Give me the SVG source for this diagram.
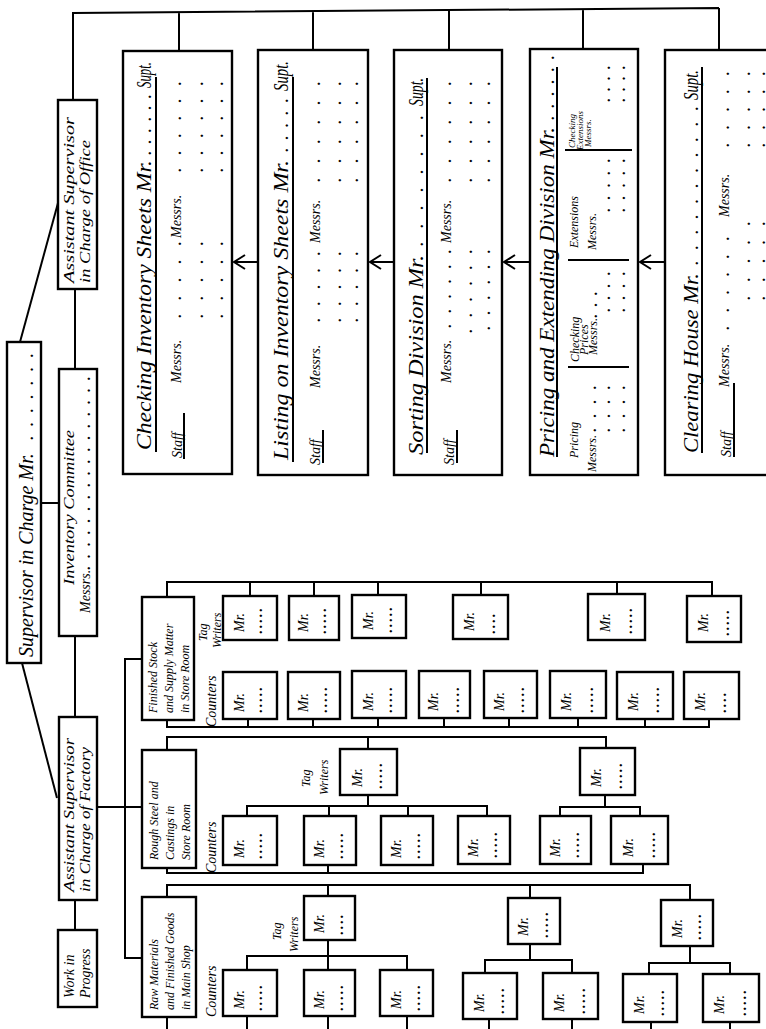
<svg xmlns="http://www.w3.org/2000/svg" width="766" height="1029" viewBox="0 0 766 1029">
<style>
.bx{fill:#fff;stroke:#000;stroke-width:2.4}
.ln{fill:none;stroke:#000;stroke-width:2}
.t{font-family:"Liberation Serif",serif;font-style:italic;fill:#000}
.h{font-size:20px}
.m{font-size:14px}
.s{font-size:12px}
.d{font-family:"Liberation Serif",serif;font-size:14px;font-weight:bold;fill:#000;letter-spacing:2px}
</style>
<defs>
<marker id="ar" markerWidth="14" markerHeight="16" refX="12" refY="8" orient="auto" markerUnits="userSpaceOnUse">
<path d="M1,1 L12,8 L1,15" fill="none" stroke="#000" stroke-width="2"/>
</marker>
</defs>
<rect width="766" height="1029" fill="#fff"/>

<g id="connectors" class="ln">
<path d="M20,342 L58,203"/>
<path d="M22,663 L57,798"/>
<path d="M41,503 H59"/>
<path d="M75,289 V369 M75,636 V717 M75,900 V930"/>
<path d="M73,100 V13 L719,8 M179,12 V51 M313,11 V50 M449,10 V50 M583,9 V49 M719,8 V49"/>
<path d="M258,262 H234" marker-end="url(#ar)"/>
<path d="M394,262 H370" marker-end="url(#ar)"/>
<path d="M530,262 H504" marker-end="url(#ar)"/>
<path d="M665,262 H640" marker-end="url(#ar)"/>
<path d="M97,807 H142 M142,659 H125 V958 H142"/>
<path d="M167,597 V582 H712 V596 M250,582 V596 M314,582 V596 M378,582 V596 M481,582 V596 M617,582 V596"/>
<path d="M167,720 V727 H709 V719 M248,727 V719 M313,727 V719 M378,727 V719 M444,727 V719 M509,727 V719 M578,727 V719 M645,727 V719"/>
<path d="M167,750 V737 H606 V748 M368,737 V749"/>
<path d="M368,795 V806 M247,816 V806 H487 V816 M329,806 V816 M408,806 V816"/>
<path d="M605,795 V807 M560,816 V807 H640 V816"/>
<path d="M167,868 V873 H643 V864 M328,873 V865"/>
<path d="M167,897 V885 H690 V900 M328,885 V896 M530,885 V898"/>
<path d="M328,940 V970 M247,970 V956 H407 V970"/>
<path d="M530,944 V960 M485,973 V960 H572 V973"/>
<path d="M690,946 V963 M649,974 V963 H730 V974"/>
<path d="M167,1017 V1029 M247,1016 V1029 M328,1016 V1029 M407,1016 V1029 M489,1019 V1029 M572,1019 V1029 M651,1022 V1029 M730,1022 V1029"/>
</g>

<g id="supervisor">
<rect class="bx" x="7" y="342" width="34" height="321"/>
<text class="t h" transform="translate(33 657) rotate(-90)">Supervisor in Charge Mr.</text>
<text class="d" transform="translate(33 440) rotate(-90)" textLength="88">. . . . . . .</text>
</g>
<g id="asst-office">
<rect class="bx" x="58" y="100" width="39" height="189"/>
<text class="t m" transform="translate(74 283) rotate(-90)" textLength="166" lengthAdjust="spacingAndGlyphs">Assistant Supervisor</text>
<text class="t m" transform="translate(90 283) rotate(-90)" textLength="143" lengthAdjust="spacingAndGlyphs">in Charge of Office</text>
</g>
<g id="committee">
<rect class="bx" x="59" y="369" width="38" height="267"/>
<text class="t m" transform="translate(74 585) rotate(-90)" textLength="155" lengthAdjust="spacingAndGlyphs">Inventory Committee</text>
<text class="t m" transform="translate(90 613) rotate(-90)">Messrs.</text>
<text class="d" transform="translate(90 570) rotate(-90)" textLength="195">. . . . . . . . . . . . . . . . .</text>
</g>
<g id="asst-factory">
<rect class="bx" x="59" y="717" width="38" height="183"/>
<text class="t m" transform="translate(74 892) rotate(-90)" textLength="154" lengthAdjust="spacingAndGlyphs">Assistant Supervisor</text>
<text class="t m" transform="translate(90 892) rotate(-90)" textLength="145" lengthAdjust="spacingAndGlyphs">in Charge of Factory</text>
</g>
<g id="work-in-progress">
<rect class="bx" x="58" y="930" width="39" height="77"/>
<text class="t m" transform="translate(74 998) rotate(-90)">Work in</text>
<text class="t m" transform="translate(90 998) rotate(-90)">Progress</text>
</g>

<g id="checking-sheets">
<rect class="bx" x="123" y="51" width="109" height="423"/>
<text class="t h" transform="translate(151 450) rotate(-90)" textLength="290" lengthAdjust="spacingAndGlyphs">Checking Inventory Sheets Mr.</text>
<text class="d" transform="translate(151 155) rotate(-90)" textLength="62">. . . . . .</text>
<text class="t h" transform="translate(151 88) rotate(-90)" textLength="26" lengthAdjust="spacingAndGlyphs">Supt.</text>
<path class="ln" d="M156,452 V77 M184,459 V413"/>
<text class="t m" transform="translate(182 458) rotate(-90)">Staff</text>
<text class="t m" transform="translate(181 383) rotate(-90)">Messrs.</text>
<text class="d" transform="translate(181 318) rotate(-90)" textLength="78">. . . . .</text>
<text class="d" transform="translate(203 318) rotate(-90)" textLength="78">. . . . .</text>
<text class="d" transform="translate(223 318) rotate(-90)" textLength="78">. . . . .</text>
<text class="t m" transform="translate(181 238) rotate(-90)">Messrs.</text>
<text class="d" transform="translate(181 172) rotate(-90)" textLength="92">. . . . . .</text>
<text class="d" transform="translate(203 172) rotate(-90)" textLength="92">. . . . . .</text>
<text class="d" transform="translate(223 172) rotate(-90)" textLength="92">. . . . . .</text>
</g>

<g id="listing-sheets">
<rect class="bx" x="258" y="50" width="110" height="425"/>
<text class="t h" transform="translate(288 460) rotate(-90)" textLength="300" lengthAdjust="spacingAndGlyphs">Listing on Inventory Sheets Mr.</text>
<text class="d" transform="translate(288 152) rotate(-90)" textLength="55">. . . . .</text>
<text class="t h" transform="translate(288 91) rotate(-90)" textLength="30" lengthAdjust="spacingAndGlyphs">Supt.</text>
<path class="ln" d="M293,462 V77 M323,463 V430"/>
<text class="t m" transform="translate(320 465) rotate(-90)">Staff</text>
<text class="t m" transform="translate(320 388) rotate(-90)">Messrs.</text>
<text class="d" transform="translate(320 322) rotate(-90)" textLength="72">. . . . .</text>
<text class="d" transform="translate(341 322) rotate(-90)" textLength="72">. . . . .</text>
<text class="d" transform="translate(358 322) rotate(-90)" textLength="72">. . . . .</text>
<text class="t m" transform="translate(320 243) rotate(-90)">Messrs.</text>
<text class="d" transform="translate(320 182) rotate(-90)" textLength="102">. . . . . .</text>
<text class="d" transform="translate(341 182) rotate(-90)" textLength="102">. . . . . .</text>
<text class="d" transform="translate(358 182) rotate(-90)" textLength="102">. . . . . .</text>
</g>

<g id="sorting-division">
<rect class="bx" x="394" y="50" width="108" height="425"/>
<text class="t h" transform="translate(423 455) rotate(-90)" textLength="200" lengthAdjust="spacingAndGlyphs">Sorting Division Mr.</text>
<text class="d" transform="translate(423 246) rotate(-90)" textLength="132">. . . . . . . .</text>
<text class="t h" transform="translate(423 106) rotate(-90)" textLength="28" lengthAdjust="spacingAndGlyphs">Supt.</text>
<path class="ln" d="M427,453 V78 M457,463 V430"/>
<text class="t m" transform="translate(454 465) rotate(-90)">Staff</text>
<text class="t m" transform="translate(451 383) rotate(-90)">Messrs.</text>
<text class="d" transform="translate(451 328) rotate(-90)" textLength="80">. . . . . .</text>
<text class="d" transform="translate(472 333) rotate(-90)" textLength="85">. . . . . .</text>
<text class="d" transform="translate(490 330) rotate(-90)" textLength="82">. . . . . .</text>
<text class="t m" transform="translate(451 243) rotate(-90)">Messrs.</text>
<text class="d" transform="translate(451 182) rotate(-90)" textLength="102">. . . . . .</text>
<text class="d" transform="translate(472 182) rotate(-90)" textLength="102">. . . . . .</text>
<text class="d" transform="translate(490 182) rotate(-90)" textLength="102">. . . . . .</text>
</g>

<g id="pricing-extending">
<rect class="bx" x="530" y="49" width="108" height="426"/>
<text class="t h" transform="translate(554 457) rotate(-90)" textLength="330" lengthAdjust="spacingAndGlyphs">Pricing and Extending Division Mr.</text>
<text class="d" transform="translate(554 120) rotate(-90)" textLength="66">. . . . . .</text>
<path class="ln" d="M557,457 V67 M568,367 H629 M568,260 H629 M565,150 H632"/>
<text class="t s" transform="translate(578 458) rotate(-90)">Pricing</text>
<text class="t s" transform="translate(596 472) rotate(-90)">Messrs.</text>
<text class="d" transform="translate(596 432) rotate(-90)" textLength="48">. . . .</text>
<text class="d" transform="translate(610 432) rotate(-90)" textLength="48">. . . .</text>
<text class="d" transform="translate(625 432) rotate(-90)" textLength="48">. . . .</text>
<text class="t s" transform="translate(579 362) rotate(-90)">Checking</text>
<text class="t s" transform="translate(588 355) rotate(-90)">Prices</text>
<text class="t s" transform="translate(597 355) rotate(-90)">Messrs.</text>
<text class="d" transform="translate(597 318) rotate(-90)" textLength="28">. . .</text>
<text class="d" transform="translate(610 312) rotate(-90)" textLength="42">. . . .</text>
<text class="d" transform="translate(625 312) rotate(-90)" textLength="42">. . . .</text>
<text class="t s" transform="translate(578 248) rotate(-90)">Extensions</text>
<text class="t s" transform="translate(596 250) rotate(-90)">Messrs.</text>
<text class="d" transform="translate(610 212) rotate(-90)" textLength="55">. . . . .</text>
<text class="d" transform="translate(625 212) rotate(-90)" textLength="55">. . . . .</text>
<text class="t" style="font-size:9px" transform="translate(575 148) rotate(-90)">Checking</text>
<text class="t" style="font-size:9px" transform="translate(583 150) rotate(-90)">Extensions</text>
<text class="t" style="font-size:9px" transform="translate(591 147) rotate(-90)">Messrs.</text>
<text class="d" transform="translate(610 102) rotate(-90)" textLength="38">. . . .</text>
<text class="d" transform="translate(625 102) rotate(-90)" textLength="38">. . . .</text>
</g>

<g id="clearing-house">
<rect class="bx" x="665" y="50" width="106" height="425"/>
<text class="t h" transform="translate(698 453) rotate(-90)" textLength="180" lengthAdjust="spacingAndGlyphs">Clearing House Mr.</text>
<text class="d" transform="translate(698 265) rotate(-90)" textLength="160">. . . . . . . . . . .</text>
<text class="t h" transform="translate(698 100) rotate(-90)" textLength="30" lengthAdjust="spacingAndGlyphs">Supt.</text>
<path class="ln" d="M702,453 V67 M734,457 V383"/>
<text class="t m" transform="translate(731 457) rotate(-90)">Staff</text>
<text class="t m" transform="translate(729 387) rotate(-90)">Messrs.</text>
<text class="d" transform="translate(729 330) rotate(-90)" textLength="95">. . . . . .</text>
<text class="d" transform="translate(750 300) rotate(-90)" textLength="80">. . . . .</text>
<text class="d" transform="translate(765 300) rotate(-90)" textLength="80">. . . . .</text>
<text class="t m" transform="translate(729 217) rotate(-90)">Messrs.</text>
<text class="d" transform="translate(729 147) rotate(-90)" textLength="77">. . . . .</text>
<text class="d" transform="translate(750 147) rotate(-90)" textLength="77">. . . . .</text>
<text class="d" transform="translate(765 147) rotate(-90)" textLength="77">. . . . .</text>
</g>

<g id="finished-stock">
<rect class="bx" x="142" y="597" width="52" height="123"/>
<text class="t s" transform="translate(157 713) rotate(-90)">Finished Stock</text>
<text class="t s" transform="translate(173 713) rotate(-90)">and Supply Matter</text>
<text class="t s" transform="translate(189 713) rotate(-90)">in Store Room</text>
</g>
<g id="rough-steel">
<rect class="bx" x="142" y="750" width="54" height="118"/>
<text class="t s" transform="translate(158 860) rotate(-90)">Rough Steel and</text>
<text class="t s" transform="translate(174 860) rotate(-90)">Castings in</text>
<text class="t s" transform="translate(190 860) rotate(-90)">Store Room</text>
</g>
<g id="raw-materials">
<rect class="bx" x="142" y="897" width="54" height="120"/>
<text class="t s" transform="translate(158 1010) rotate(-90)">Raw Materials</text>
<text class="t s" transform="translate(174 1010) rotate(-90)">and Finished Goods</text>
<text class="t s" transform="translate(190 1010) rotate(-90)">in Main Shop</text>
</g>

<g id="labels">
<text class="t s" transform="translate(207 641) rotate(-90)">Tag</text>
<text class="t s" transform="translate(221 648) rotate(-90)">Writers</text>
<text class="t m" transform="translate(216 727) rotate(-90)">Counters</text>
<text class="t s" transform="translate(310 787) rotate(-90)">Tag</text>
<text class="t s" transform="translate(328 795) rotate(-90)">Writers</text>
<text class="t m" transform="translate(216 873) rotate(-90)">Counters</text>
<text class="t s" transform="translate(281 940) rotate(-90)">Tag</text>
<text class="t s" transform="translate(298 952) rotate(-90)">Writers</text>
<text class="t m" transform="translate(216 1017) rotate(-90)">Counters</text>
</g>

<g id="small-boxes">
<g id="a-tw1"><rect class="bx" x="223" y="596" width="54" height="44"/><text class="t m" transform="translate(244 632) rotate(-90)">Mr.</text><text class="d" transform="translate(262 634) rotate(-90)">.....</text></g>
<g id="a-tw2"><rect class="bx" x="289" y="596" width="50" height="44"/><text class="t m" transform="translate(308 632) rotate(-90)">Mr.</text><text class="d" transform="translate(326 634) rotate(-90)">.....</text></g>
<g id="a-tw3"><rect class="bx" x="352" y="595" width="54" height="43"/><text class="t m" transform="translate(373 630) rotate(-90)">Mr.</text><text class="d" transform="translate(392 633) rotate(-90)">.....</text></g>
<g id="a-tw4"><rect class="bx" x="453" y="595" width="55" height="44"/><text class="t m" transform="translate(474 631) rotate(-90)">Mr.</text><text class="d" transform="translate(495 634) rotate(-90)">....</text></g>
<g id="a-tw5"><rect class="bx" x="588" y="594" width="57" height="46"/><text class="t m" transform="translate(610 632) rotate(-90)">Mr.</text><text class="d" transform="translate(632 634) rotate(-90)">.....</text></g>
<g id="a-tw6"><rect class="bx" x="687" y="596" width="54" height="46"/><text class="t m" transform="translate(708 632) rotate(-90)">Mr.</text><text class="d" transform="translate(729 636) rotate(-90)">.....</text></g>
<g id="a-c1"><rect class="bx" x="223" y="672" width="54" height="47"/><text class="t m" transform="translate(244 712) rotate(-90)">Mr.</text><text class="d" transform="translate(262 713) rotate(-90)">.....</text></g>
<g id="a-c2"><rect class="bx" x="288" y="672" width="52" height="47"/><text class="t m" transform="translate(308 712) rotate(-90)">Mr.</text><text class="d" transform="translate(327 713) rotate(-90)">.....</text></g>
<g id="a-c3"><rect class="bx" x="352" y="671" width="54" height="47"/><text class="t m" transform="translate(373 711) rotate(-90)">Mr.</text><text class="d" transform="translate(392 713) rotate(-90)">.....</text></g>
<g id="a-c4"><rect class="bx" x="419" y="671" width="51" height="47"/><text class="t m" transform="translate(438 711) rotate(-90)">Mr.</text><text class="d" transform="translate(459 713) rotate(-90)">.....</text></g>
<g id="a-c5"><rect class="bx" x="484" y="671" width="53" height="47"/><text class="t m" transform="translate(504 711) rotate(-90)">Mr.</text><text class="d" transform="translate(524 713) rotate(-90)">.....</text></g>
<g id="a-c6"><rect class="bx" x="550" y="671" width="56" height="47"/><text class="t m" transform="translate(571 711) rotate(-90)">Mr.</text><text class="d" transform="translate(593 713) rotate(-90)">.....</text></g>
<g id="a-c7"><rect class="bx" x="617" y="672" width="56" height="47"/><text class="t m" transform="translate(638 711) rotate(-90)">Mr.</text><text class="d" transform="translate(659 713) rotate(-90)">.....</text></g>
<g id="a-c8"><rect class="bx" x="684" y="672" width="55" height="47"/><text class="t m" transform="translate(705 711) rotate(-90)">Mr.</text><text class="d" transform="translate(726 713) rotate(-90)">....</text></g>
<g id="b-tw1"><rect class="bx" x="340" y="749" width="57" height="46"/><text class="t m" transform="translate(362 787) rotate(-90)">Mr.</text><text class="d" transform="translate(382 789) rotate(-90)">.....</text></g>
<g id="b-tw2"><rect class="bx" x="580" y="748" width="55" height="47"/><text class="t m" transform="translate(601 787) rotate(-90)">Mr.</text><text class="d" transform="translate(622 789) rotate(-90)">.....</text></g>
<g id="b-c1"><rect class="bx" x="223" y="816" width="54" height="49"/><text class="t m" transform="translate(244 858) rotate(-90)">Mr.</text><text class="d" transform="translate(262 859) rotate(-90)">.....</text></g>
<g id="b-c2"><rect class="bx" x="304" y="816" width="52" height="49"/><text class="t m" transform="translate(324 858) rotate(-90)">Mr.</text><text class="d" transform="translate(343 859) rotate(-90)">.....</text></g>
<g id="b-c3"><rect class="bx" x="381" y="816" width="52" height="49"/><text class="t m" transform="translate(401 858) rotate(-90)">Mr.</text><text class="d" transform="translate(420 859) rotate(-90)">.....</text></g>
<g id="b-c4"><rect class="bx" x="458" y="816" width="52" height="48"/><text class="t m" transform="translate(478 857) rotate(-90)">Mr.</text><text class="d" transform="translate(497 858) rotate(-90)">.....</text></g>
<g id="b-c5"><rect class="bx" x="540" y="816" width="51" height="48"/><text class="t m" transform="translate(560 857) rotate(-90)">Mr.</text><text class="d" transform="translate(579 858) rotate(-90)">.....</text></g>
<g id="b-c6"><rect class="bx" x="611" y="816" width="57" height="48"/><text class="t m" transform="translate(633 857) rotate(-90)">Mr.</text><text class="d" transform="translate(655 858) rotate(-90)">.....</text></g>
<g id="c-tw1"><rect class="bx" x="304" y="896" width="51" height="44"/><text class="t m" transform="translate(324 933) rotate(-90)">Mr.</text><text class="d" transform="translate(343 935) rotate(-90)">....</text></g>
<g id="c-tw2"><rect class="bx" x="508" y="898" width="52" height="46"/><text class="t m" transform="translate(528 936) rotate(-90)">Mr.</text><text class="d" transform="translate(548 938) rotate(-90)">.....</text></g>
<g id="c-tw3"><rect class="bx" x="661" y="900" width="52" height="46"/><text class="t m" transform="translate(682 938) rotate(-90)">Mr.</text><text class="d" transform="translate(701 940) rotate(-90)">.....</text></g>
<g id="c-c1"><rect class="bx" x="223" y="970" width="54" height="46"/><text class="t m" transform="translate(244 1009) rotate(-90)">Mr.</text><text class="d" transform="translate(262 1011) rotate(-90)">.....</text></g>
<g id="c-c2"><rect class="bx" x="304" y="970" width="51" height="46"/><text class="t m" transform="translate(324 1009) rotate(-90)">Mr.</text><text class="d" transform="translate(343 1011) rotate(-90)">.....</text></g>
<g id="c-c3"><rect class="bx" x="380" y="970" width="53" height="46"/><text class="t m" transform="translate(401 1009) rotate(-90)">Mr.</text><text class="d" transform="translate(420 1011) rotate(-90)">.....</text></g>
<g id="c-c4"><rect class="bx" x="463" y="973" width="54" height="46"/><text class="t m" transform="translate(484 1012) rotate(-90)">Mr.</text><text class="d" transform="translate(504 1014) rotate(-90)">.....</text></g>
<g id="c-c5"><rect class="bx" x="543" y="973" width="55" height="46"/><text class="t m" transform="translate(564 1012) rotate(-90)">Mr.</text><text class="d" transform="translate(585 1014) rotate(-90)">.....</text></g>
<g id="c-c6"><rect class="bx" x="623" y="974" width="54" height="48"/><text class="t m" transform="translate(644 1014) rotate(-90)">Mr.</text><text class="d" transform="translate(664 1016) rotate(-90)">.....</text></g>
<g id="c-c7"><rect class="bx" x="703" y="974" width="56" height="48"/><text class="t m" transform="translate(724 1014) rotate(-90)">Mr.</text><text class="d" transform="translate(746 1016) rotate(-90)">.....</text></g>
</g>
</svg>
